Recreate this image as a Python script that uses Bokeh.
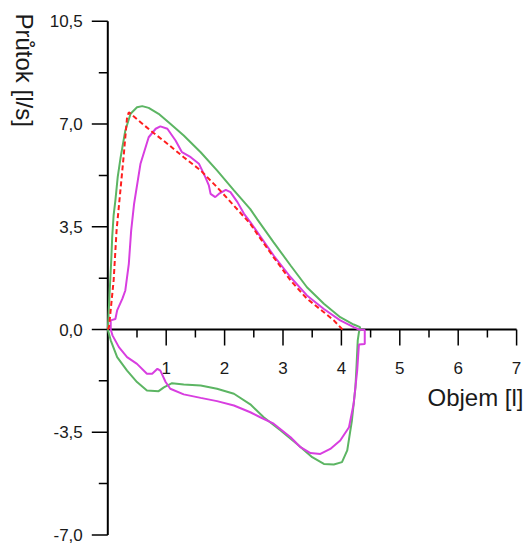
import math
from bokeh.plotting import figure
from bokeh.core.properties import value
from bokeh.embed import file_html
from bokeh.resources import INLINE

# ---------------- data ----------------
green_x = [0.0, 0.03, 0.06, 0.075, 0.10, 0.13, 0.17, 0.22, 0.30, 0.39, 0.50, 0.59, 0.70, 0.87,
           1.07, 1.30, 1.59, 1.87, 2.16, 2.44, 2.56, 2.84, 3.13, 3.41, 3.70, 3.98, 4.21, 4.32,
           4.30, 4.28, 4.26, 4.24, 4.18, 4.10, 4.01, 3.87, 3.70, 3.50, 3.24, 2.96, 2.67, 2.44,
           2.16, 1.87, 1.59, 1.30, 1.10, 0.96, 0.87, 0.67, 0.50, 0.33, 0.16, 0.05, 0.0]
green_y = [0.0, 1.2, 2.4, 3.14, 3.9, 4.40, 5.2, 5.87, 6.78, 7.35, 7.57, 7.61, 7.55, 7.35,
           7.01, 6.61, 6.04, 5.42, 4.74, 4.10, 3.75, 2.97, 2.18, 1.44, 0.88, 0.42, 0.17, 0.08,
           -0.10, -0.37, -1.20, -1.97, -3.10, -4.12, -4.52, -4.60, -4.58, -4.35, -3.90, -3.44, -2.99, -2.55,
           -2.19, -2.02, -1.91, -1.87, -1.83, -1.97, -2.10, -2.08, -1.79, -1.40, -0.94, -0.37, 0.0]

magenta_x = [0.05, 0.05, 0.13, 0.16, 0.25, 0.30, 0.36, 0.40, 0.45, 0.56, 0.70, 0.82, 0.90, 1.02,
             1.16, 1.27, 1.42, 1.56, 1.67, 1.73, 1.76, 1.84, 1.90, 2.02, 2.10, 2.22, 2.33, 2.44,
             2.56, 2.84, 3.13, 3.41, 3.70, 3.98, 4.21, 4.30, 4.40, 4.40, 4.30, 4.27, 4.21, 4.13,
             3.98, 3.81, 3.64, 3.47, 3.30, 3.13, 2.84, 2.61, 2.44, 2.16, 1.87, 1.59, 1.30, 1.07,
             0.99, 0.90, 0.85, 0.76, 0.67, 0.50, 0.33, 0.19, 0.08, 0.05]
magenta_y = [0.0, 0.31, 0.36, 0.65, 1.05, 1.33, 2.24, 3.37, 4.28, 5.65, 6.55, 6.84, 6.92, 6.84,
             6.44, 6.04, 5.87, 5.65, 5.19, 4.91, 4.62, 4.51, 4.62, 4.76, 4.68, 4.34, 3.95, 3.66,
             3.32, 2.52, 1.78, 1.16, 0.70, 0.31, 0.08, 0.0, -0.02, -0.49, -0.51, -1.40, -2.53, -3.33,
             -3.78, -4.07, -4.24, -4.21, -4.01, -3.67, -3.21, -2.99, -2.82, -2.59, -2.44, -2.33, -2.21, -2.02,
             -1.79, -1.40, -1.34, -1.51, -1.51, -1.17, -0.94, -0.60, -0.20, 0.0]

red_x = [0.0, 0.02, 0.10, 0.15, 0.27, 0.33, 0.36, 0.73, 1.02, 1.30, 1.59, 1.87, 2.16, 2.44,
         2.56, 2.84, 3.13, 3.41, 3.70, 3.87, 4.02]
red_y = [0.0, 0.08, 1.67, 3.37, 5.87, 7.23, 7.40, 6.78, 6.33, 5.87, 5.42, 4.85, 4.22, 3.60,
         3.25, 2.46, 1.67, 1.05, 0.59, 0.31, 0.0]

x_major_ticks = [1, 2, 3, 4, 5, 6, 7]
x_minor_ticks = [0.5, 1.5, 2.5, 3.5, 4.5, 5.5, 6.5]
x_tick_labels = ["1", "2", "3", "4", "5", "6", "7"]
y_major_ticks = [-7.0, -3.5, 0.0, 3.5, 7.0, 10.5]
y_minor_ticks = [-5.25, -1.75, 1.75, 5.25, 8.75]
y_tick_labels = ["-7,0", "-3,5", "0,0", "3,5", "7,0", "10,5"]
x_title = ["Objem [l]"]
y_title = ["Průtok [l/s]"]

# ---------------- layout ----------------
W, H = 531, 544            # canvas size
OX, OY = 107.3, 329.0      # canvas pixel of data origin
XPU, YPU = 58.4, 29.35     # pixels per data unit
x_lo, x_hi = -OX / XPU, (W - OX) / XPU
y_lo, y_hi = -(H - OY) / YPU, OY / YPU
xpp, ypp = 1.0 / XPU, 1.0 / YPU   # data units per pixel

FONT = value("Liberation Sans")
TXT = "#1a1a1a"

p = figure(frame_width=W, frame_height=H,
           x_range=(x_lo, x_hi), y_range=(y_lo, y_hi),
           x_axis_location=None, y_axis_location=None,
           min_border=0, min_border_left=0, min_border_right=0,
           min_border_top=0, min_border_bottom=0,
           output_backend="svg", toolbar_location=None)
p.grid.visible = False
p.outline_line_color = None
p.background_fill_color = "white"
p.border_fill_color = "white"

AX_X = [0.0]
AX_Y = [0.0]

# ---- y axis (at x = 0) ----
p.segment(x0=AX_X, y0=[min(y_major_ticks)], x1=AX_X, y1=[max(y_major_ticks)],
          line_color="black", line_width=2)
p.segment(x0=[0.0] * len(y_major_ticks), y0=y_major_ticks,
          x1=[-16 * xpp] * len(y_major_ticks), y1=y_major_ticks,
          line_color="black", line_width=1.5)
p.segment(x0=[0.0] * len(y_minor_ticks), y0=y_minor_ticks,
          x1=[-9 * xpp] * len(y_minor_ticks), y1=y_minor_ticks,
          line_color="black", line_width=1.5)
p.text(x=[-25 * xpp] * len(y_major_ticks), y=y_major_ticks, text=y_tick_labels,
       text_align="right", text_baseline="middle",
       text_font=FONT, text_font_size="17px", text_color=TXT)

# ---- x axis (at y = 0) ----
p.segment(x0=[0.0], y0=AX_Y, x1=[max(x_major_ticks)], y1=AX_Y,
          line_color="black", line_width=2)
p.segment(x0=x_major_ticks, y0=[0.0] * len(x_major_ticks),
          x1=x_major_ticks, y1=[-16 * ypp] * len(x_major_ticks),
          line_color="black", line_width=1.5)
p.segment(x0=x_minor_ticks, y0=[0.0] * len(x_minor_ticks),
          x1=x_minor_ticks, y1=[-8 * ypp] * len(x_minor_ticks),
          line_color="black", line_width=1.5)
p.text(x=x_major_ticks, y=[-38.5 * ypp] * len(x_major_ticks), text=x_tick_labels,
       text_align="center", text_baseline="alphabetic",
       text_font=FONT, text_font_size="17px", text_color=TXT)

# ---- curves ----
p.line(green_x, green_y, line_color="#5cb563", line_width=2)
p.line(magenta_x, magenta_y, line_color="#d83ee0", line_width=2)
p.line(red_x, red_y, line_color="#ff1e1e", line_width=2, line_dash="5 3")

# ---- axis titles ----
p.text(x=[(523 - OX) * xpp], y=[-(397 - OY) * ypp], text=x_title,
       text_align="right", text_baseline="alphabetic",
       text_font=FONT, text_font_size="24px", text_color=TXT)
p.text(x=[(24 - OX) * xpp], y=[(OY - 13) * ypp], text=y_title,
       angle=-math.pi / 2, text_align="left", text_baseline="alphabetic",
       text_font=FONT, text_font_size="24px", text_color=TXT)

open("out.html", "w").write(file_html(p, INLINE))
